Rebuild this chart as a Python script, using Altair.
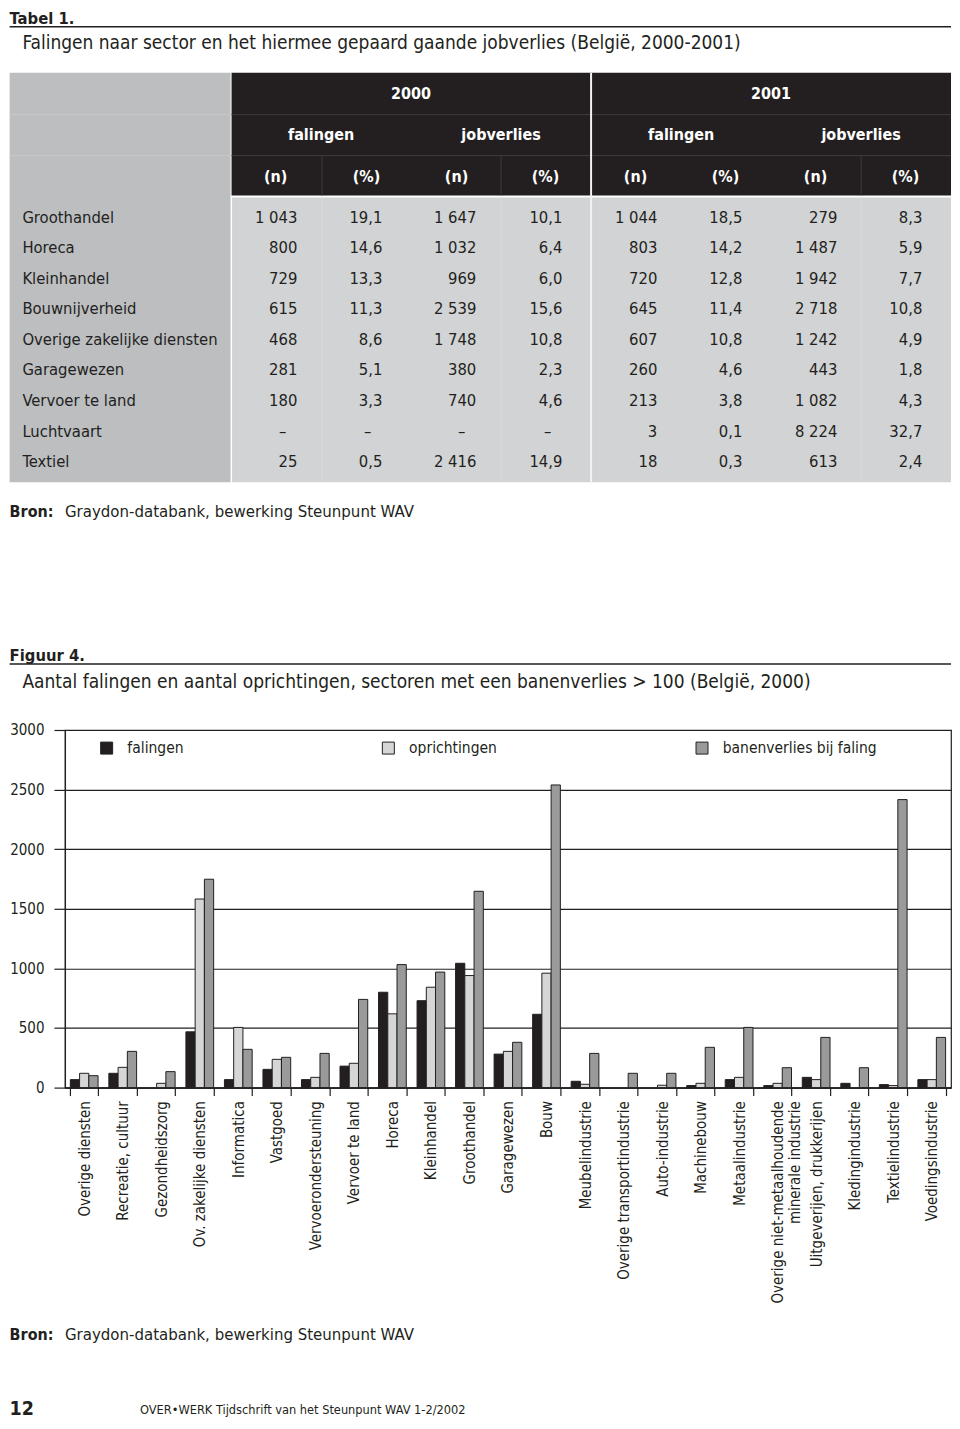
import altair as alt
import pandas as pd

INK = "#231f20"
FONT = "'DejaVu Sans Condensed', 'Liberation Sans Narrow', Roboto, sans-serif"

# ---------------- Tabel 1 data ----------------
table_sectors = ["Groothandel", "Horeca", "Kleinhandel", "Bouwnijverheid",
                 "Overige zakelijke diensten", "Garagewezen", "Vervoer te land",
                 "Luchtvaart", "Textiel"]
fal_2000_n = [1043, 800, 729, 615, 468, 281, 180, None, 25]
fal_2000_pct = [19.1, 14.6, 13.3, 11.3, 8.6, 5.1, 3.3, None, 0.5]
job_2000_n = [1647, 1032, 969, 2539, 1748, 380, 740, None, 2416]
job_2000_pct = [10.1, 6.4, 6.0, 15.6, 10.8, 2.3, 4.6, None, 14.9]
fal_2001_n = [1044, 803, 720, 645, 607, 260, 213, 3, 18]
fal_2001_pct = [18.5, 14.2, 12.8, 11.4, 10.8, 4.6, 3.8, 0.1, 0.3]
job_2001_n = [279, 1487, 1942, 2718, 1242, 443, 1082, 8224, 613]
job_2001_pct = [8.3, 5.9, 7.7, 10.8, 4.9, 1.8, 4.3, 32.7, 2.4]
years = ["2000", "2001"]
groups = ["falingen", "jobverlies"]
units = ["(n)", "(%)"]

# ---------------- Figuur 4 data ----------------
fig_sectors = ["Overige diensten", "Recreatie, cultuur", "Gezondheidszorg",
               "Ov. zakelijke diensten", "Informatica", "Vastgoed",
               "Vervoerondersteuning", "Vervoer te land", "Horeca", "Kleinhandel",
               "Groothandel", "Garagewezen", "Bouw", "Meubelindustrie",
               "Overige transportindustrie", "Auto-industrie", "Machinebouw",
               "Metaalindustrie", "Overige niet-metaalhoudende minerale industrie",
               "Uitgeverijen, drukkerijen", "Kledingindustrie", "Textielindustrie",
               "Voedingsindustrie"]
falingen = [67, 120, 0, 468, 67, 153, 67, 180, 800, 729, 1043, 281, 615,
            53, 0, 0, 17, 67, 17, 86, 36, 25, 67]
oprichtingen = [120, 170, 36, 1582, 505, 237, 86, 204, 619, 842, 940, 304, 960,
                28, 0, 20, 36, 86, 36, 67, 0, 17, 67]
banenverlies = [100, 304, 134, 1748, 321, 254, 287, 740, 1032, 969, 1647, 380, 2539,
                287, 120, 120, 338, 505, 167, 421, 167, 2416, 421]
series_names = ["falingen", "oprichtingen", "banenverlies bij faling"]
y_ticks = [0, 500, 1000, 1500, 2000, 2500, 3000]

# ---------------- layout helpers (pixels) ----------------
def X(r):
    return round((r - 61) * 0.99, 1)

def YA(r):
    return r - 6

W = 887
col_right = [296, 382, 477, 564, 660, 746, 842, 928]
head_year_x = [411, 775]
head_group_x = [320, 502, 684, 866]
head_unit_x = [274, 366, 457, 547, 638, 729, 820, 911]
BODY = 16.5


def fmt_n(v):
    return f"{v:,}".replace(",", " ")


def fmt_p(v):
    return f"{v:.1f}".replace(".", ",")


# ---------------- Chart A : title, table, source, figure title ----------------
rects = pd.DataFrame([
    dict(x=X(5), x2=X(228.5), y=YA(70), y2=YA(480), fill="#bcbec0"),
    dict(x=X(229.5), x2=X(957), y=YA(70), y2=YA(193), fill=INK),
    dict(x=X(230), x2=X(957), y=YA(195), y2=YA(480), fill="#d1d3d4"),
])
rules = []
for yy in (112, 153):
    rules.append(dict(x=X(229.5), x2=X(957), y=YA(yy), y2=YA(yy), c="#3f3b3c", w=1))
    rules.append(dict(x=X(5), x2=X(228.5), y=YA(yy), y2=YA(yy), c="#c7c8ca", w=1))
for xx in (321, 502, 866):
    rules.append(dict(x=X(xx), x2=X(xx), y=YA(153), y2=YA(193), c="#3f3b3c", w=1))
    rules.append(dict(x=X(xx), x2=X(xx), y=YA(195), y2=YA(480), c="#d9dadc", w=1))
rules.append(dict(x=X(593), x2=X(593), y=YA(70), y2=YA(480), c="#f2f2f2", w=2))
rules.append(dict(x=X(5), x2=X(957), y=18, y2=18, c=INK, w=1.5))
rules.append(dict(x=X(5), x2=X(957), y=YA(662), y2=YA(662), c=INK, w=1.5))
rules = pd.DataFrame(rules)

rect_layer = alt.Chart(rects).mark_rect().encode(
    x=alt.X("x:Q", scale=None, axis=None), x2="x2:Q",
    y=alt.Y("y:Q", scale=None, axis=None), y2="y2:Q",
    fill=alt.Fill("fill:N", scale=None))
rule_layer = alt.Chart(rules).mark_rule().encode(
    x=alt.X("x:Q", scale=None, axis=None), x2="x2:Q",
    y=alt.Y("y:Q", scale=None, axis=None), y2="y2:Q",
    stroke=alt.Stroke("c:N", scale=None),
    strokeWidth=alt.StrokeWidth("w:Q", scale=None))

head = []
for t, xx in zip(years, head_year_x):
    head.append(dict(t=t, x=X(xx), y=YA(91)))
for i, xx in enumerate(head_group_x):
    head.append(dict(t=groups[i % 2], x=X(xx), y=YA(132)))
for i, xx in enumerate(head_unit_x):
    head.append(dict(t=units[i % 2], x=X(xx), y=YA(174)))
head_layer = alt.Chart(pd.DataFrame(head)).mark_text(
    font=FONT, fontSize=16, fontWeight="bold", color="white",
    align="center", baseline="middle").encode(
    x=alt.X("x:Q", scale=None, axis=None), y=alt.Y("y:Q", scale=None, axis=None),
    text="t:N")

cols = [fal_2000_n, fal_2000_pct, job_2000_n, job_2000_pct,
        fal_2001_n, fal_2001_pct, job_2001_n, job_2001_pct]
cells = []
for ci, col in enumerate(cols):
    for ri, v in enumerate(col):
        if v is None:
            txt, dash = "–", True
        else:
            txt, dash = (fmt_n(v) if ci % 2 == 0 else fmt_p(v)), False
        cells.append(dict(sector=table_sectors[ri], label=txt, dash=dash, xr=X(col_right[ci])))
cells = pd.DataFrame(cells)
row_scale = alt.Scale(type="point", domain=table_sectors, range=[YA(215), YA(460)], padding=0)

row_labels = alt.Chart(pd.DataFrame({"sector": table_sectors})).mark_text(
    font=FONT, fontSize=BODY, color=INK, align="left", baseline="middle").encode(
    x=alt.value(X(18)),
    y=alt.Y("sector:N", scale=row_scale, axis=None),
    text="sector:N")
num_layer = alt.Chart(cells[~cells.dash]).mark_text(
    font=FONT, fontSize=BODY, color=INK, align="right", baseline="middle").encode(
    x=alt.X("xr:Q", scale=None, axis=None),
    y=alt.Y("sector:N", scale=row_scale, axis=None),
    text="label:N")
dash_layer = alt.Chart(cells[cells.dash]).mark_text(
    font=FONT, fontSize=BODY, color=INK, align="right", baseline="middle", dx=-11).encode(
    x=alt.X("xr:Q", scale=None, axis=None),
    y=alt.Y("sector:N", scale=row_scale, axis=None),
    text="label:N")

titles_bold = pd.DataFrame([
    dict(t="Tabel 1.", x=X(5), y=15, s=16.5),
    dict(t="Bron:", x=X(5), y=YA(515), s=16),
    dict(t="Figuur 4.", x=X(5), y=YA(659), s=16.5),
])
titles_norm = pd.DataFrame([
    dict(t="Falingen naar sector en het hiermee gepaard gaande jobverlies (België, 2000-2001)",
         x=X(18), y=40, s=19),
    dict(t="Graydon-databank, bewerking Steunpunt WAV", x=X(61), y=YA(515), s=16.7),
    dict(t="Aantal falingen en aantal oprichtingen, sectoren met een banenverlies > 100 (België, 2000)",
         x=X(18), y=YA(686), s=19),
])
tb_layer = alt.Chart(titles_bold).mark_text(
    font=FONT, fontWeight="bold", color=INK, align="left", baseline="alphabetic").encode(
    x=alt.X("x:Q", scale=None, axis=None), y=alt.Y("y:Q", scale=None, axis=None),
    size=alt.Size("s:Q", scale=None, legend=None), text="t:N")
tn_layer = alt.Chart(titles_norm).mark_text(
    font=FONT, color=INK, align="left", baseline="alphabetic").encode(
    x=alt.X("x:Q", scale=None, axis=None), y=alt.Y("y:Q", scale=None, axis=None),
    size=alt.Size("s:Q", scale=None, legend=None), text="t:N")

chart_a = alt.layer(rect_layer, rule_layer, head_layer, row_labels, num_layer,
                    dash_layer, tb_layer, tn_layer).resolve_scale(
    x="independent", y="independent").properties(width=W, height=722)

# ---------------- Chart B : grouped bar chart ----------------
recs = []
for s_name, vals in zip(series_names, [falingen, oprichtingen, banenverlies]):
    for sec, v in zip(fig_sectors, vals):
        if v > 0:
            recs.append(dict(sector=sec, series=s_name, value=v))
bar_df = pd.DataFrame(recs)

label_expr = ("datum.label == 'Overige niet-metaalhoudende minerale industrie' ? "
              "['Overige niet-metaalhoudende', 'minerale industrie'] : datum.label")

chart_b = alt.Chart(bar_df).mark_bar(stroke=INK, strokeWidth=1).encode(
    x=alt.X("sector:N", sort=fig_sectors,
            scale=alt.Scale(domain=fig_sectors, paddingInner=0.28, paddingOuter=0.14),
            axis=alt.Axis(title=None, labelAngle=270, tickBand="extent", tickSize=8,
                          tickColor=INK, tickWidth=1.2, domainColor=INK, domainWidth=1.2,
                          labelFont=FONT, labelFontSize=15, labelColor=INK,
                          labelPadding=5, labelLimit=400, labelLineHeight=17,
                          labelExpr=label_expr)),
    xOffset=alt.XOffset("series:N", sort=series_names,
                        scale=alt.Scale(domain=series_names)),
    y=alt.Y("value:Q", scale=alt.Scale(domain=[0, 3000], nice=False),
            axis=alt.Axis(title=None, values=y_ticks, format="d", grid=True,
                          gridColor=INK, gridWidth=1.2, domainColor=INK, domainWidth=1.2,
                          tickColor=INK, tickWidth=1.2, tickSize=11, labelPadding=10,
                          labelFont=FONT, labelFontSize=15, labelColor=INK)),
    color=alt.Color("series:N", sort=series_names,
                    scale=alt.Scale(domain=series_names,
                                    range=[INK, "#d6d6d6", "#9a9a9a"]),
                    legend=alt.Legend(title=None, orient="none", legendX=34, legendY=10,
                                      direction="horizontal", columns=3, padding=0,
                                      symbolType="square", symbolSize=144,
                                      symbolStrokeColor=INK, symbolStrokeWidth=1,
                                      labelFont=FONT, labelFontSize=15.5, labelColor=INK,
                                      labelOffset=13, labelLimit=400, columnPadding=196)),
).properties(width=W, height=358,
             view=alt.ViewBackground(stroke=INK, strokeWidth=1.2))

# ---------------- Chart C : source + footer ----------------
foot_bold = pd.DataFrame([
    dict(t="Bron:", x=X(5), y=253, s=16),
    dict(t="12", x=X(5), y=328, s=19.5),
])
foot_norm = pd.DataFrame([
    dict(t="Graydon-databank, bewerking Steunpunt WAV", x=X(61), y=253, s=16.7),
    dict(t="OVER•WERK  Tijdschrift van het Steunpunt WAV  1-2/2002", x=X(137), y=327, s=12.7),
])
fb = alt.Chart(foot_bold).mark_text(
    font=FONT, fontWeight="bold", color=INK, align="left", baseline="alphabetic").encode(
    x=alt.X("x:Q", scale=None, axis=None), y=alt.Y("y:Q", scale=None, axis=None),
    size=alt.Size("s:Q", scale=None, legend=None), text="t:N")
fn = alt.Chart(foot_norm).mark_text(
    font=FONT, color=INK, align="left", baseline="alphabetic").encode(
    x=alt.X("x:Q", scale=None, axis=None), y=alt.Y("y:Q", scale=None, axis=None),
    size=alt.Size("s:Q", scale=None, legend=None), text="t:N")
chart_c = alt.layer(fb, fn).properties(width=W, height=333)

page = (alt.vconcat(chart_a, chart_b, chart_c, spacing=0, bounds="flush")
        .resolve_legend(color="independent")
        .properties(padding=0)
        .configure(font=FONT)
        .configure_view(stroke=None))

page.save("out.html", embed_options={"renderer": "svg", "actions": False})
